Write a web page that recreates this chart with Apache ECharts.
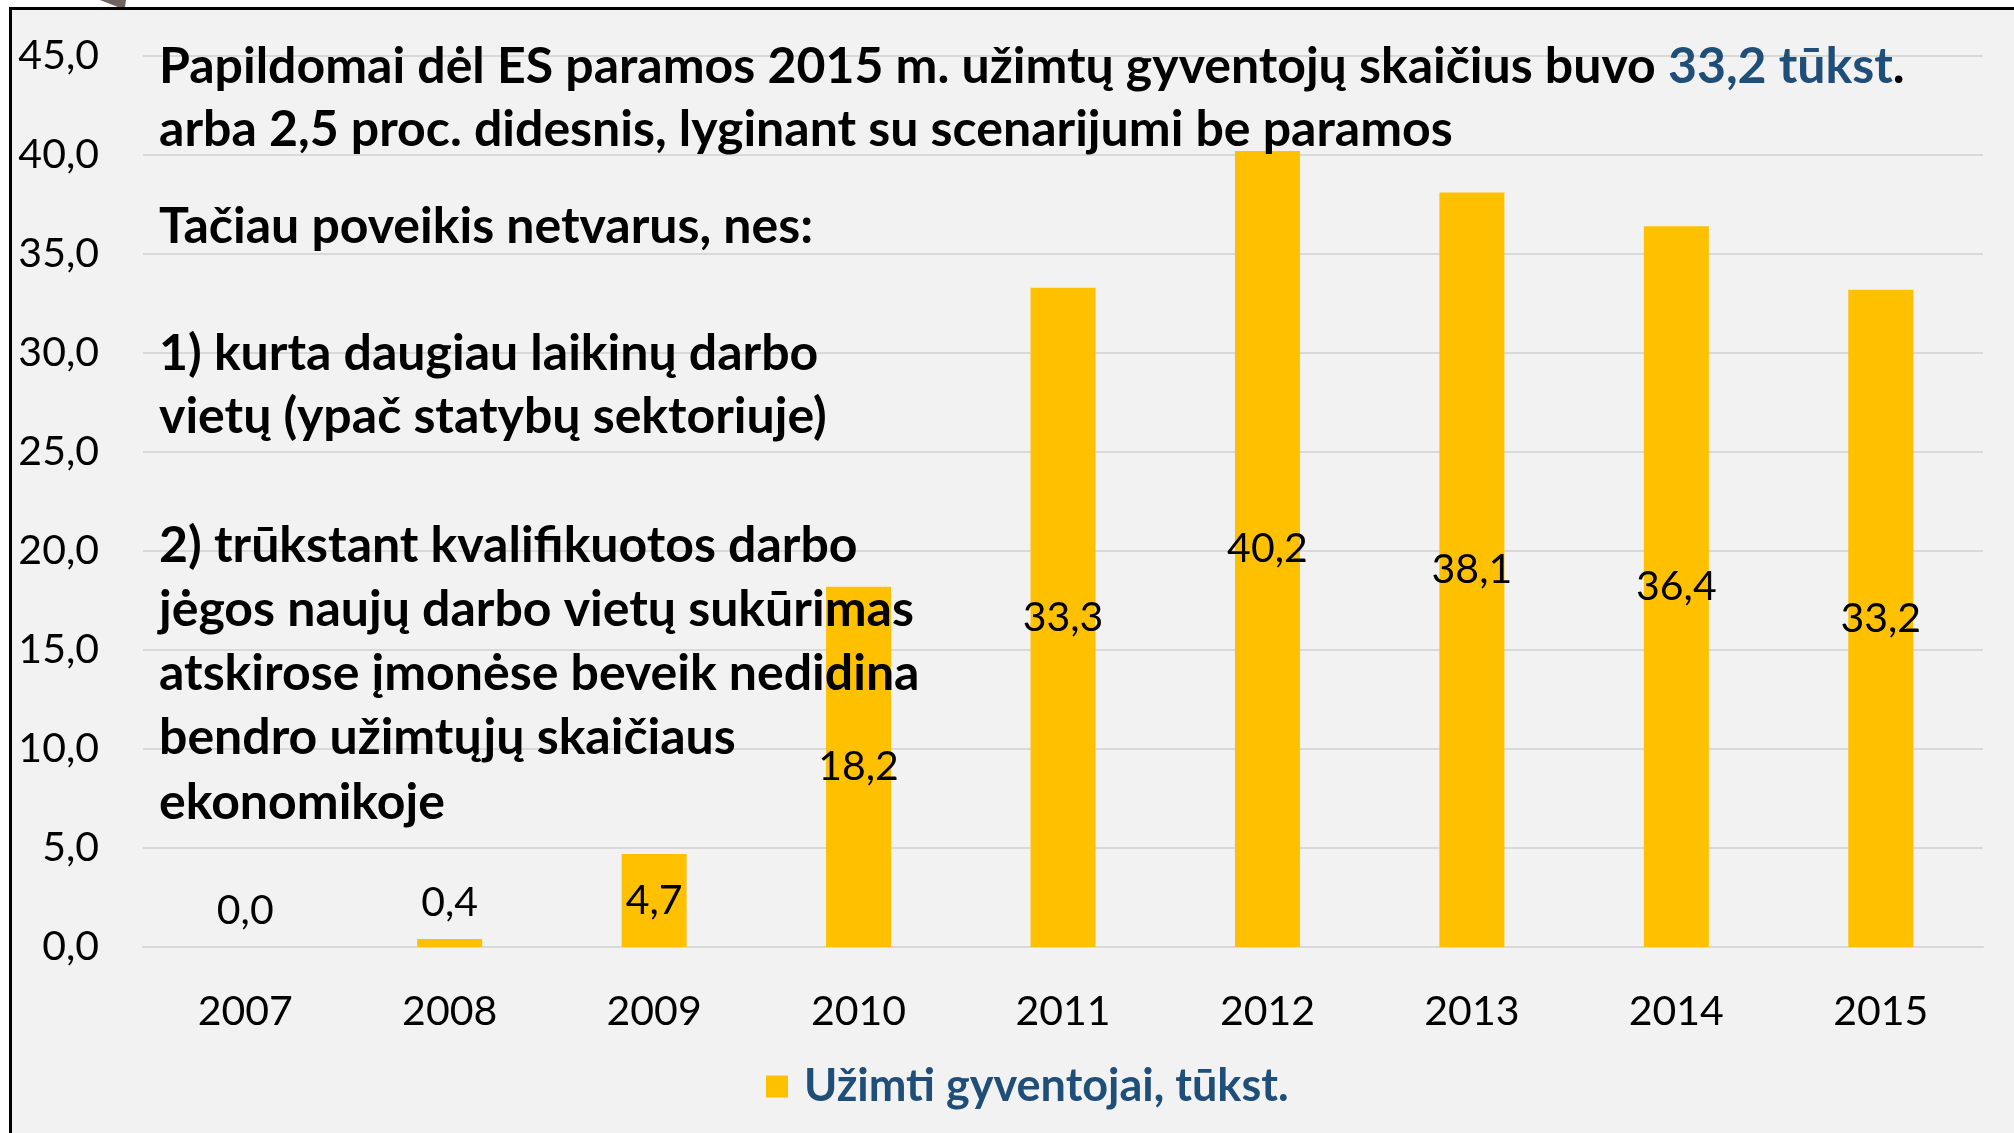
<!DOCTYPE html>
<html>

<head>
    <meta charset="utf-8">
    <title>ES parama</title>
    <script src="https://cdn.jsdelivr.net/npm/echarts@6/dist/echarts.min.js"></script>
    <style>
        html, body { margin: 0; padding: 0; background: #fff; }
    </style>
</head>

<body>
    <div id="main" style="width: 2014px;height:1133px;"></div>
    <script type="text/javascript">
        var years = ['2007', '2008', '2009', '2010', '2011', '2012', '2013', '2014', '2015'];
        var employed = [0.0, 0.4, 4.7, 18.2, 33.3, 40.2, 38.1, 36.4, 33.2];
        var seriesName = 'Užimti gyventojai, tūkst.';

        // note text, one entry per line; {b|...} is the blue highlight
        var noteLines = [
            'Papildomai dėl ES paramos 2015 m. užimtų gyventojų skaičius buvo {b|33,2 tūkst}.',
            'arba 2,5 proc. didesnis, lyginant su scenarijumi be paramos',
            'Tačiau poveikis netvarus, nes:',
            '1) kurta daugiau laikinų darbo',
            'vietų (ypač statybų sektoriuje)',
            '2) trūkstant kvalifikuotos darbo',
            'jėgos naujų darbo vietų sukūrimas',
            'atskirose įmonėse beveik nedidina',
            'bendro užimtųjų skaičiaus',
            'ekonomikoje'
        ];
        var noteY = [67, 130, 227, 354, 417, 546, 610, 674, 738, 803];

        var font = 'Lato';
        var fmt = function (v) { return Number(v).toFixed(1).replace('.', ','); };

        var myChart = echarts.init(document.getElementById('main'));

        var barData = employed.map(function (v) {
            var small = v < 2;
            return {
                value: v,
                label: {
                    position: small ? 'top' : 'inside',
                    distance: 16
                }
            };
        });

        var graphics = [
            // white margin outside the slide frame
            { type: 'rect', shape: { x: 0, y: 0, width: 2014, height: 7 }, style: { fill: '#fff' }, z: 100 },
            { type: 'rect', shape: { x: 0, y: 0, width: 9, height: 1133 }, style: { fill: '#fff' }, z: 100 },
            { type: 'line', shape: { x1: 9, y1: 8.5, x2: 2014, y2: 8.5 }, style: { stroke: '#000', lineWidth: 3 }, z: 101 },
            { type: 'line', shape: { x1: 10.5, y1: 7, x2: 10.5, y2: 1133 }, style: { stroke: '#000', lineWidth: 3 }, z: 101 },
            { type: 'polygon', shape: { points: [[100, 0], [126, 0], [125, 7], [118, 7]] }, style: { fill: '#6f6360' }, z: 102 }
        ];
        noteLines.forEach(function (t, i) {
            graphics.push({
                type: 'text',
                x: 159,
                y: noteY[i],
                z: 110,
                style: {
                    text: t,
                    fill: '#000',
                    font: 'bold 50px ' + font,
                    verticalAlign: 'middle',
                    rich: {
                        b: { fill: '#1F4E79', font: 'bold 50px ' + font }
                    }
                }
            });
        });

        option = {
            backgroundColor: '#F2F2F2',
            animation: false,
            textStyle: { fontFamily: font },
            grid: {
                left: 143,
                right: 31,
                top: 56,
                bottom: 186,
                containLabel: false
            },
            legend: {
                data: [seriesName],
                bottom: 19,
                left: 761,
                itemWidth: 22,
                itemHeight: 22,
                icon: 'rect',
                textStyle: {
                    color: '#1F4E79',
                    fontWeight: 'bold',
                    fontSize: 45,
                    fontFamily: font,
                    padding: [0, 0, 0, 11]
                }
            },
            xAxis: {
                type: 'category',
                data: years,
                axisLine: { lineStyle: { color: '#D9D9D9', width: 2 } },
                axisTick: { show: false },
                axisLabel: {
                    color: '#000',
                    fontSize: 41,
                    margin: 44,
                    fontFamily: font
                }
            },
            yAxis: {
                type: 'value',
                min: 0,
                max: 45,
                interval: 5,
                axisLine: { show: false },
                axisTick: { show: false },
                splitLine: { lineStyle: { color: '#D9D9D9', width: 2 } },
                axisLabel: {
                    color: '#000',
                    fontSize: 41,
                    margin: 44,
                    fontFamily: font,
                    formatter: fmt
                }
            },
            series: [{
                name: seriesName,
                type: 'bar',
                data: barData,
                barWidth: 65,
                itemStyle: { color: '#FFC000' },
                label: {
                    show: true,
                    color: '#000',
                    fontSize: 41,
                    fontFamily: font,
                    formatter: function (p) { return fmt(p.value); }
                }
            }],
            graphic: graphics
        };

        myChart.setOption(option);
    </script>
</body>

</html>
